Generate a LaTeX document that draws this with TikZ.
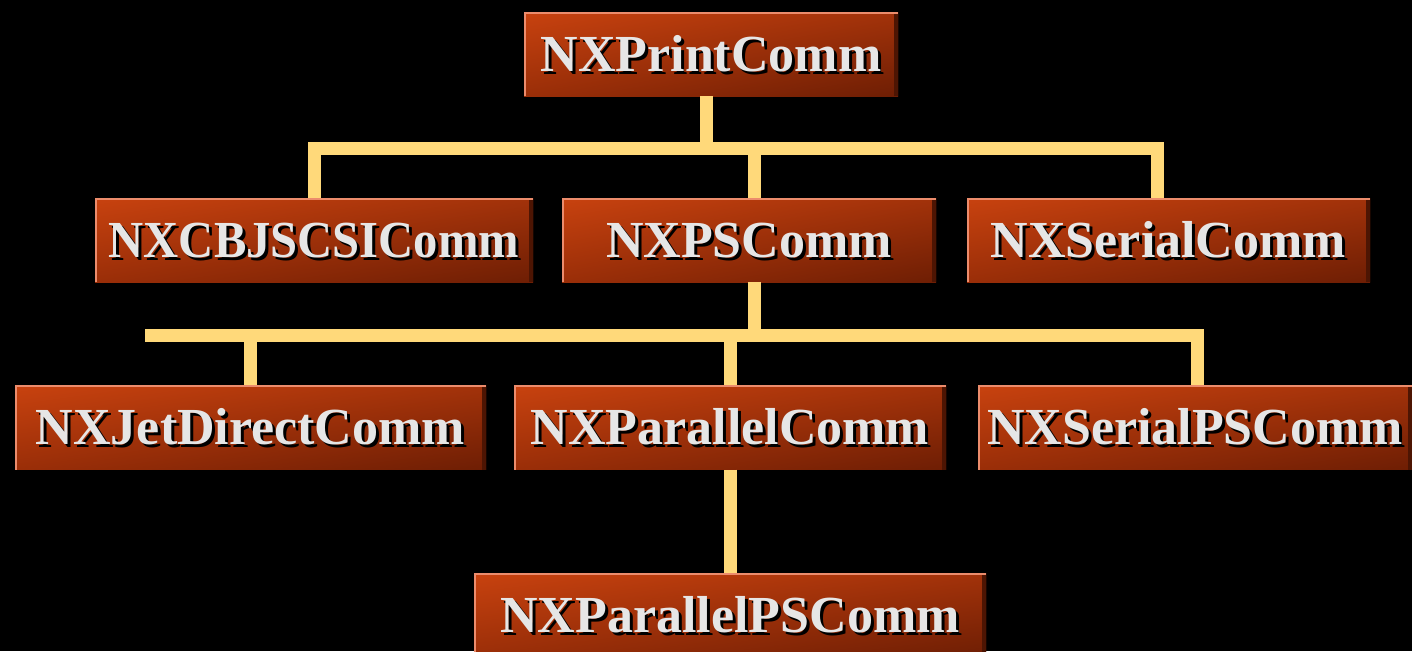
\documentclass[tikz,border=0pt]{standalone}
\usepackage{fontspec}
\setmainfont{Liberation Serif}
\usepackage{graphicx}
\usetikzlibrary{shadings}
\definecolor{conncol}{HTML}{FFD97A}
\definecolor{txtcol}{HTML}{E6E6E6}
\definecolor{hlcol}{HTML}{EC8C6C}
\definecolor{cul}{HTML}{C8420F}
\definecolor{cur}{HTML}{A2320A}
\definecolor{cll}{HTML}{9A2E08}
\definecolor{clr}{HTML}{6E1E04}
\newcommand\shtxt[1]{\rlap{\kern3pt\raisebox{-3pt}{\color{black}#1}}{\color{txtcol}#1}}
\tikzset{
  box/.style={rectangle, inner sep=0pt, minimum height=84pt,
    text height=34pt, text depth=0pt,
    font=\fontsize{52}{60}\selectfont\bfseries,
    shade, upper left=cul, upper right=cur, lower left=cll, lower right=clr,
    path picture={
      \draw[clr!70!black, line width=8pt]
        (path picture bounding box.north east) -- (path picture bounding box.south east);
      \draw[hlcol, line width=3pt]
        (path picture bounding box.south west) -- (path picture bounding box.north west)
        -- (path picture bounding box.north east);
    }},
  conn/.style={draw=conncol, line width=13pt, line join=miter}
}
\begin{document}
\begin{tikzpicture}[x=1pt,y=-1pt]
\useasboundingbox (0,0) rectangle (1412,651);
\fill[black] (0,0) rectangle (1412,651);
\clip (0,0) rectangle (1412,651);

% coordinates of the buses
\coordinate (T1) at (706,148.5);
\coordinate (L1) at (314,148.5);
\coordinate (P1) at (754,148.5);
\coordinate (R1) at (1157,148.5);
\coordinate (L2) at (145,335.5);
\coordinate (J2) at (250.5,335.5);
\coordinate (Q2) at (730,335.5);
\coordinate (U2) at (754,335.5);
\coordinate (R2) at (1197.5,335.5);

% boxes
\node[box, minimum width=374pt] (print) at (711,54) {\shtxt{NXPrintComm}};
\node[box, minimum width=438pt] (cbj) at (314,240) {\shtxt{\scalebox{0.935}[1]{NXCBJSCSIComm}}};
\node[box, minimum width=374pt] (ps) at (749,240) {\shtxt{NXPSComm}};
\node[box, minimum width=403pt] (serial) at (1168.5,240) {\shtxt{NXSerialComm}};
\node[box, minimum width=471pt] (jet) at (250.5,427.5) {\shtxt{NXJetDirectComm}};
\node[box, minimum width=432pt] (par) at (730,427.5) {\shtxt{NXParallelComm}};
\node[box, minimum width=434pt] (serialps) at (1195,427.5) {\shtxt{NXSerialPSComm}};
\node[box, minimum width=512pt] (parps) at (730,615) {\shtxt{NXParallelPSComm}};

% connectors level 1
\draw[conn] (print.south -| T1) -- (T1);
\draw[conn] (cbj.north -| L1) |- (R1) -- (serial.north -| R1);
\draw[conn] (P1) -- (ps.north -| P1);
% connectors level 2
\draw[conn] (ps.south -| U2) -- (U2);
\draw[conn] (L2) -- (R2) -- (serialps.north -| R2);
\draw[conn] (J2) -- (jet.north -| J2);
\draw[conn] (Q2) -- (par.north -| Q2);
% level 3
\draw[conn] (par.south -| Q2) -- (parps.north -| Q2);
\end{tikzpicture}
\end{document}
